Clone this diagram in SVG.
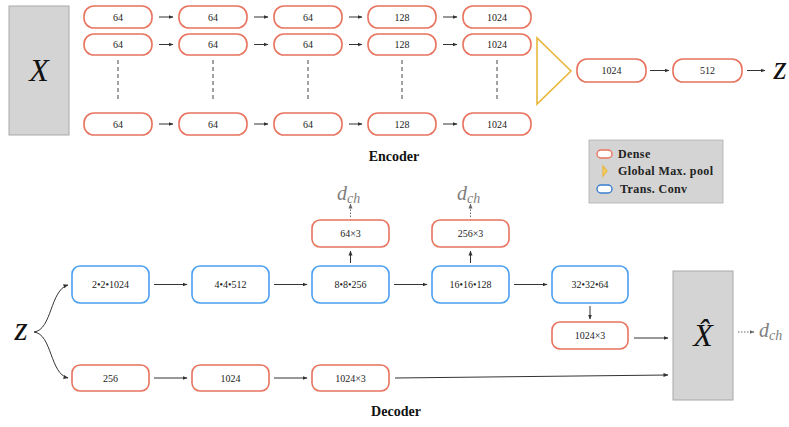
<svg xmlns="http://www.w3.org/2000/svg" width="789" height="427" viewBox="0 0 789 427">
<defs>
<marker id="ah" viewBox="0 0 10 10" refX="9" refY="5" markerWidth="5" markerHeight="5" orient="auto"><path d="M0,1 L10,5 L0,9 z" fill="#333"/></marker>
<marker id="ahg" viewBox="0 0 10 10" refX="9" refY="5" markerWidth="5" markerHeight="5" orient="auto"><path d="M0,1 L10,5 L0,9 z" fill="#666"/></marker>
<style>
.bg{fill:#fff}
.d{fill:#fff;stroke:#e8735e;stroke-width:1.6}
.t{fill:#fff;stroke:#4b9ff0;stroke-width:1.6}
.g{fill:#d4d4d4;stroke:#a8a8a8;stroke-width:1}
.lb{font-family:"Liberation Serif","DejaVu Serif",serif;font-size:10px;fill:#222;text-anchor:middle;dominant-baseline:central}
.ttl{font-family:"Liberation Serif","DejaVu Serif",serif;font-size:14px;font-weight:bold;fill:#111;text-anchor:middle}
.leg{font-family:"Liberation Serif","DejaVu Serif",serif;font-size:12px;font-weight:bold;fill:#222;dominant-baseline:central;letter-spacing:0.4px}
.m{font-family:"Liberation Serif","DejaVu Serif",serif;font-style:italic;fill:#111;text-anchor:middle}
.dch{font-family:"Liberation Serif","DejaVu Serif",serif;font-style:italic;fill:#808080;font-size:20px}
.a{stroke:#333;stroke-width:1;fill:none;marker-end:url(#ah)}
.ad{stroke:#666;stroke-width:1;fill:none;stroke-dasharray:1.5 1.5;marker-end:url(#ahg)}
.dash{stroke:#444;stroke-width:1;stroke-dasharray:4 3}
</style>
</defs>
<rect class="bg" x="0" y="0" width="789" height="427"/>

<!-- Encoder -->
<g id="X">
<rect class="g" x="9" y="6" width="60" height="129"/>
<text class="m" x="39" y="81" font-size="32">X</text>
</g>

<g id="enc-r1">
<g id="e11"><rect class="d" x="84" y="6" width="68" height="22" rx="10"/><text class="lb" x="118" y="17">64</text></g>
<g id="e12"><rect class="d" x="179" y="6" width="68" height="22" rx="10"/><text class="lb" x="213" y="17">64</text></g>
<g id="e13"><rect class="d" x="274" y="6" width="68" height="22" rx="10"/><text class="lb" x="308" y="17">64</text></g>
<g id="e14"><rect class="d" x="368" y="6" width="68" height="22" rx="10"/><text class="lb" x="402" y="17">128</text></g>
<g id="e15"><rect class="d" x="463" y="6" width="68" height="22" rx="10"/><text class="lb" x="497" y="17">1024</text></g>
</g>
<g id="enc-r2">
<g id="e21"><rect class="d" x="84" y="34" width="68" height="21" rx="10"/><text class="lb" x="118" y="44.5">64</text></g>
<g id="e22"><rect class="d" x="179" y="34" width="68" height="21" rx="10"/><text class="lb" x="213" y="44.5">64</text></g>
<g id="e23"><rect class="d" x="274" y="34" width="68" height="21" rx="10"/><text class="lb" x="308" y="44.5">64</text></g>
<g id="e24"><rect class="d" x="368" y="34" width="68" height="21" rx="10"/><text class="lb" x="402" y="44.5">128</text></g>
<g id="e25"><rect class="d" x="463" y="34" width="68" height="21" rx="10"/><text class="lb" x="497" y="44.5">1024</text></g>
</g>
<g id="enc-r3">
<g id="e31"><rect class="d" x="84" y="113" width="68" height="22" rx="10"/><text class="lb" x="118" y="124">64</text></g>
<g id="e32"><rect class="d" x="179" y="113" width="68" height="22" rx="10"/><text class="lb" x="213" y="124">64</text></g>
<g id="e33"><rect class="d" x="274" y="113" width="68" height="22" rx="10"/><text class="lb" x="308" y="124">64</text></g>
<g id="e34"><rect class="d" x="368" y="113" width="68" height="22" rx="10"/><text class="lb" x="402" y="124">128</text></g>
<g id="e35"><rect class="d" x="463" y="113" width="68" height="22" rx="10"/><text class="lb" x="497" y="124">1024</text></g>
</g>

<g id="pool">
<polygon points="537,38 537,104 571,71" fill="none" stroke="#e8b83c" stroke-width="1.6"/>
</g>
<g id="e-fc1"><rect class="d" x="577" y="59" width="69" height="23" rx="10"/><text class="lb" x="611.5" y="70.5">1024</text></g>
<g id="e-fc2"><rect class="d" x="673" y="59" width="69" height="23" rx="10"/><text class="lb" x="707.5" y="70.5">512</text></g>
<g id="z-enc"><text class="m" x="780" y="79" font-size="34">z</text></g>
<text class="ttl" x="394" y="161">Encoder</text>

<!-- Legend -->
<g id="legend">
<rect x="589" y="140" width="134" height="63" fill="#d4d4d4" stroke="#b0b0b0" stroke-width="0.8"/>
<rect x="597" y="150" width="15" height="8" rx="4" fill="#fff" stroke="#e8735e" stroke-width="1.4"/>
<text class="leg" x="618" y="154">Dense</text>
<polygon points="603,166 603,176 607,171" fill="#f5cf6a" stroke="#e8b83c" stroke-width="1.2"/>
<text class="leg" x="618" y="171">Global Max. pool</text>
<rect x="597" y="185" width="15" height="8" rx="4" fill="#fff" stroke="#3a7fd0" stroke-width="1.4"/>
<text class="leg" x="620" y="189">Trans. Conv</text>
</g>

<!-- Decoder -->
<g id="z-dec"><text class="m" x="21" y="340" font-size="34">z</text></g>
<g id="t1"><rect class="t" x="72" y="266" width="77" height="37" rx="8"/><text class="lb" x="110.5" y="284.5">2•2•1024</text></g>
<g id="t2"><rect class="t" x="192" y="266" width="77" height="37" rx="8"/><text class="lb" x="230.5" y="284.5">4•4•512</text></g>
<g id="t3"><rect class="t" x="312" y="266" width="77" height="37" rx="8"/><text class="lb" x="350.5" y="284.5">8•8•256</text></g>
<g id="t4"><rect class="t" x="432" y="266" width="77" height="37" rx="8"/><text class="lb" x="470.5" y="284.5">16•16•128</text></g>
<g id="t5"><rect class="t" x="552" y="266" width="76" height="37" rx="8"/><text class="lb" x="590" y="284.5">32•32•64</text></g>
<g id="o1"><rect class="d" x="312" y="220" width="77" height="27" rx="8"/><text class="lb" x="350.5" y="233.5">64×3</text></g>
<g id="o2"><rect class="d" x="432" y="220" width="77" height="27" rx="8"/><text class="lb" x="470.5" y="233.5">256×3</text></g>
<g id="o3"><rect class="d" x="552" y="322" width="76" height="27" rx="8"/><text class="lb" x="590" y="335.5">1024×3</text></g>
<g id="dch1"><text class="dch" x="337" y="200">d<tspan font-size="14" dy="3">ch</tspan></text></g>
<g id="dch2"><text class="dch" x="457" y="200">d<tspan font-size="14" dy="3">ch</tspan></text></g>
<g id="b1"><rect class="d" x="72" y="365" width="77" height="26" rx="8"/><text class="lb" x="110.5" y="378">256</text></g>
<g id="b2"><rect class="d" x="192" y="365" width="77" height="26" rx="8"/><text class="lb" x="230.5" y="378">1024</text></g>
<g id="b3"><rect class="d" x="312" y="365" width="77" height="26" rx="8"/><text class="lb" x="350.5" y="378">1024×3</text></g>
<g id="Xhat">
<rect class="g" x="673" y="271" width="60" height="129"/>
<text class="m" x="703" y="346" font-size="32">X&#x302;</text>
</g>
<g id="dch3"><text class="dch" x="759" y="337">d<tspan font-size="14" dy="3">ch</tspan></text></g>
<text class="ttl" x="396" y="416">Decoder</text>

<!-- Connectors -->
<g id="connectors">
<line class="a" x1="159" y1="17" x2="173" y2="17"/>
<line class="a" x1="254" y1="17" x2="268" y2="17"/>
<line class="a" x1="349" y1="17" x2="362" y2="17"/>
<line class="a" x1="443" y1="17" x2="457" y2="17"/>
<line class="a" x1="159" y1="44.5" x2="173" y2="44.5"/>
<line class="a" x1="254" y1="44.5" x2="268" y2="44.5"/>
<line class="a" x1="349" y1="44.5" x2="362" y2="44.5"/>
<line class="a" x1="443" y1="44.5" x2="457" y2="44.5"/>
<line class="a" x1="159" y1="124" x2="173" y2="124"/>
<line class="a" x1="254" y1="124" x2="268" y2="124"/>
<line class="a" x1="349" y1="124" x2="362" y2="124"/>
<line class="a" x1="443" y1="124" x2="457" y2="124"/>
<line class="dash" x1="118" y1="60" x2="118" y2="101"/>
<line class="dash" x1="213" y1="60" x2="213" y2="101"/>
<line class="dash" x1="308" y1="60" x2="308" y2="101"/>
<line class="dash" x1="402" y1="60" x2="402" y2="101"/>
<line class="dash" x1="497" y1="60" x2="497" y2="101"/>
<line class="a" x1="650" y1="70.5" x2="669" y2="70.5"/>
<line class="a" x1="747" y1="70.5" x2="765" y2="70.5"/>

<path class="a" d="M34,332 C52,330 50,290 68,285"/>
<path class="a" d="M34,332 C52,334 50,374 68,378"/>
<line class="a" x1="154" y1="284.5" x2="187" y2="284.5"/>
<line class="a" x1="274" y1="284.5" x2="307" y2="284.5"/>
<line class="a" x1="394" y1="284.5" x2="427" y2="284.5"/>
<line class="a" x1="514" y1="284.5" x2="547" y2="284.5"/>
<line class="a" x1="350.5" y1="263" x2="350.5" y2="251"/>
<line class="a" x1="470.5" y1="263" x2="470.5" y2="251"/>
<line class="ad" x1="350.5" y1="217" x2="350.5" y2="204"/>
<line class="ad" x1="470.5" y1="217" x2="470.5" y2="204"/>
<line class="a" x1="590" y1="306" x2="590" y2="319"/>
<line class="a" x1="634" y1="338" x2="668" y2="338"/>
<line class="ad" x1="738" y1="332" x2="754" y2="332"/>
<line class="a" x1="154" y1="378" x2="187" y2="378"/>
<line class="a" x1="274" y1="378" x2="307" y2="378"/>
<line class="a" x1="395" y1="378" x2="668" y2="375"/>
</g>
</svg>
